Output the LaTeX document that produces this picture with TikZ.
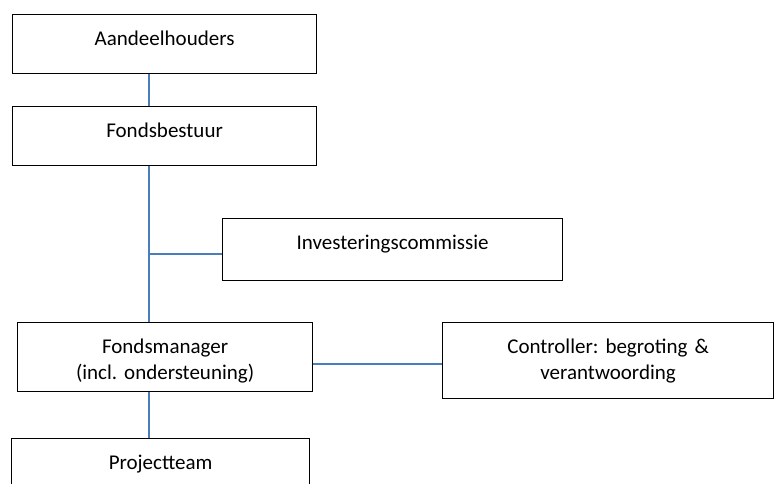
\documentclass[tikz,border=0pt]{standalone}
\usepackage{fontspec}
\setmainfont{Carlito}
\usetikzlibrary{positioning}
\definecolor{linkblue}{RGB}{74,126,187}
\frenchspacing

\begin{document}
\begin{tikzpicture}[x=1pt, y=-1pt,
box/.style ={draw, line width=1.2pt, anchor=north west, inner sep=0pt,
align=center, text height=31pt, font=\fontsize{21}{26}\selectfont},
link/.style ={draw=linkblue, line width=1.8pt}]
\useasboundingbox (0,0) rectangle (774,484);
\coordinate (Spine) at (149,0);
\node[box, text width=304pt, text depth=28pt] (Aandeelhouders) at (12,14) {Aandeelhouders};
\node[box, text width=304pt, text depth=28pt] (Fondsbestuur) at (12,106) {Fondsbestuur};
\node[box, text width=340pt, text depth=31pt] (Investeringscommissie) at (222,218) {Investeringscommissie};
\node[box, text width=295pt, text depth=38pt] (Fondsmanager) at (17,322) {Fondsmanager\\(incl. ondersteuning)};
\node[box, text width=331pt, text depth=45pt] (Controller) at (442,322) {Controller: begroting \&\\verantwoording};
\node[box, text width=298pt, text depth=29pt] (Projectteam) at (11,438) {Projectteam};

\path (Aandeelhouders.south -| Spine) edge[link] (Fondsbestuur.north -| Spine);
\path (Fondsbestuur.south -| Spine) edge[link] (Fondsmanager.north -| Spine);
\path ([yshift=-4pt]Investeringscommissie.west -| Spine) edge[link] ([yshift=-4pt]Investeringscommissie.west);
\path ([yshift=-6.5pt]Fondsmanager.east) edge[link] ([yshift=-6.5pt]Fondsmanager.east -| Controller.west);
\path (Fondsmanager.south -| Spine) edge[link] (Projectteam.north -| Spine);
\end{tikzpicture}
\end{document}
